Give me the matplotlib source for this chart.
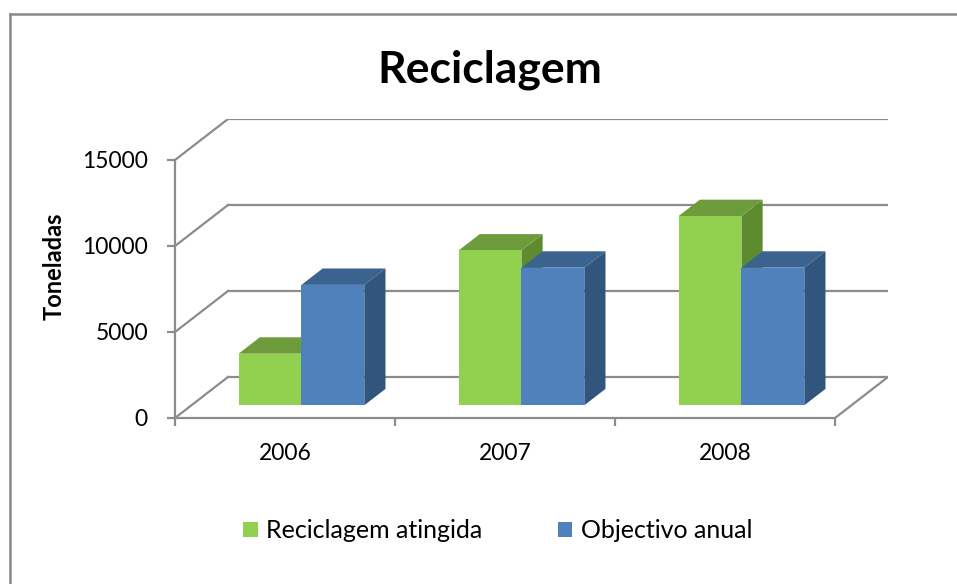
import numpy as np
import matplotlib.pyplot as plt
from matplotlib.patches import Polygon, Patch
from matplotlib.lines import Line2D

plt.rcParams['font.family'] = ['Lato', 'DejaVu Sans']

# data
years = ['2006', '2007', '2008']
atingida = [3000, 9000, 11000]
objectivo = [7000, 8000, 8000]
series = ['Reciclagem atingida', 'Objectivo anual']
yticks = [0, 5000, 10000, 15000]

# colours (front, top, side)
green = ('#92D050', '#6E9C3C', '#5E8A30')
blue = ('#4F81BD', '#3B6390', '#31557D')
grid_c = '#8C8C8C'

W, H = 957, 584
fig = plt.figure(figsize=(W / 100, H / 100), dpi=100)

# oblique depth of the 3d box, in data units
DX = 53 / 220
DY = 41 / (86 / 5000)
ymax = 15000

# axes: data x 0..3+DX  <->  px 175..888 ; data y 0..ymax+DY <-> px 418..119
left, right, bottom, top = 175, 888, 418, 119
ax = fig.add_axes([left / W, 1 - bottom / H, (right - left) / W, (bottom - top) / H])
ax.set_xlim(0, 3 + DX)
ax.set_ylim(0, ymax + DY)
ax.patch.set_visible(False)

# walls / gridlines
lw = 1.6
for v in yticks:
    ax.plot([DX, 3 + DX], [v + DY, v + DY], color=grid_c, lw=lw, zorder=1)
    ax.plot([0, DX], [v, v + DY], color=grid_c, lw=lw, zorder=1)
ax.plot([3, 3 + DX], [0, DY], color=grid_c, lw=lw, zorder=1)

# spines and ticks
for s in ['top', 'right']:
    ax.spines[s].set_visible(False)
for s in ['left', 'bottom']:
    ax.spines[s].set_color(grid_c)
    ax.spines[s].set_linewidth(lw)
ax.spines['left'].set_bounds(0, ymax)
ax.spines['bottom'].set_bounds(0, 3)
ax.set_yticks(yticks)
ax.set_yticklabels([str(v) for v in yticks], fontsize=16.5)
ax.tick_params(axis='y', length=5.5, width=lw, color=grid_c, pad=14)
ax.set_xticks([0, 1, 2, 3])
ax.set_xticklabels([])
ax.tick_params(axis='x', which='major', length=6, width=lw, color=grid_c, direction='out')
ax.set_xticks([0.5, 1.5, 2.5], minor=True)
ax.set_xticklabels(years, minor=True, fontsize=16.5)
ax.tick_params(axis='x', which='minor', length=0, pad=18)

# 3d bars
w = 1 / 3.5  # gap width 150%
f0, fd = 0.31, 0.4  # depth position of front face, bar depth
ox, oy = f0 * DX, f0 * DY
bdx, bdy = fd * DX, fd * DY
z = 3
for i in range(len(years)):
    c = i + 0.5
    for j, (vals, col) in enumerate([(atingida, green), (objectivo, blue)]):
        v = vals[i]
        x0 = c - w + j * w + ox
        x1 = x0 + w
        side = [(x1, oy), (x1 + bdx, oy + bdy), (x1 + bdx, oy + v + bdy), (x1, oy + v)]
        topf = [(x0, oy + v), (x1, oy + v), (x1 + bdx, oy + v + bdy), (x0 + bdx, oy + v + bdy)]
        ax.add_patch(Polygon(side, closed=True, facecolor=col[2], edgecolor='none', zorder=z))
        ax.add_patch(Polygon(topf, closed=True, facecolor=col[1], edgecolor='none', zorder=z))
        ax.bar(x0, v, width=w, bottom=oy, align='edge', color=col[0], zorder=z)
        z += 1

# title and y label
fig.text(490 / W, 1 - 82 / H, 'Reciclagem', fontsize=32, fontweight='bold',
         ha='center', va='baseline')
fig.text(54.5 / W, 1 - 266 / H, 'Toneladas', fontsize=17, fontweight='bold',
         rotation=90, ha='center', va='center')

# legend
handles = [Patch(facecolor=green[0]), Patch(facecolor=blue[0])]
fig.legend(handles, series, loc='center left', bbox_to_anchor=(243 / W, 1 - 531 / H),
           ncol=2, frameon=False, fontsize=18, handlelength=0.58, handleheight=0.58,
           handletextpad=0.36, columnspacing=3.0, borderpad=0, borderaxespad=0)

# chart border (only top/left visible in the crop)
fig.add_artist(Line2D([9.7 / W, 9.7 / W], [-0.01, 1 - 13.5 / H], color='#888888', lw=1.8))
fig.add_artist(Line2D([9.7 / W, 1.01], [1 - 13.5 / H, 1 - 13.5 / H], color='#888888', lw=1.8))

fig.savefig('out.png', dpi=100)
